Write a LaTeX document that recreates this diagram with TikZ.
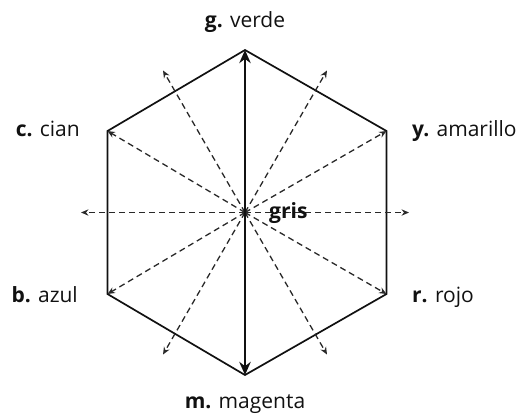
\documentclass[tikz,border=0pt]{standalone}
\usepackage{fontspec}
\setmainfont{Open Sans}
\usetikzlibrary{arrows.meta,calc}
\definecolor{ink}{HTML}{111111}
\tikzset{
  hexside/.style={draw=ink, line width=1.7pt, line join=miter},
  axisarr/.style={-{Stealth[length=4.6mm,width=4mm]}, line width=2.8pt, color=ink},
  rayarr/.style={-{Stealth[length=2.6mm,width=2.2mm]}, dash pattern=on 6pt off 4pt,
                 line width=1.3pt, color=ink!90},
  lbl/.style={font=\fontsize{21}{25}\selectfont, inner sep=0pt, text=ink}}

\begin{document}
\begin{tikzpicture}[x=1pt,y=-1pt]
        \useasboundingbox (0,0) rectangle (518,413);
        % center and corners of the hexagon
        \coordinate (o) at (245,212.5);
        \coordinate (g) at (245,50);
        \coordinate (y) at (386.5,131);
        \coordinate (r) at (386.5,294);
        \coordinate (m) at (245,375);
        \coordinate (b) at (107.5,294);
        \coordinate (c) at (107.5,131);
        \draw[hexside] (g) -- (y) -- (r) -- (m) -- (b) -- (c) -- cycle;
        % rays out of the center
        \foreach \ang in {0,60,120,180,240,300}
          \draw[rayarr] (o) -- ($(o)+(\ang:164)$);
        \foreach \cn in {c,y,r,b}
          \draw[rayarr] (o) -- (\cn);
        \draw[axisarr] (o) -- (g);
        \draw[axisarr] (o) -- (m);
        % labels
        \node[lbl, anchor=base] (lg) at (245,27) {\textbf{g.} verde};
        \node[lbl, anchor=base west] (ly) at (412,136) {\textbf{y.} amarillo};
        \node[lbl, anchor=base west] (lr) at (412,302) {\textbf{r.} rojo};
        \node[lbl, anchor=base] (lm) at (245,408) {\textbf{m.} magenta};
        \node[lbl, anchor=base east] (lb) at (78,302) {\textbf{b.} azul};
        \node[lbl, anchor=base east] (lc) at (80,136) {\textbf{c.} cian};
        \node[lbl, anchor=base west] (lgris) at (269,218) {\textbf{gris}};
      \end{tikzpicture}
\end{document}
